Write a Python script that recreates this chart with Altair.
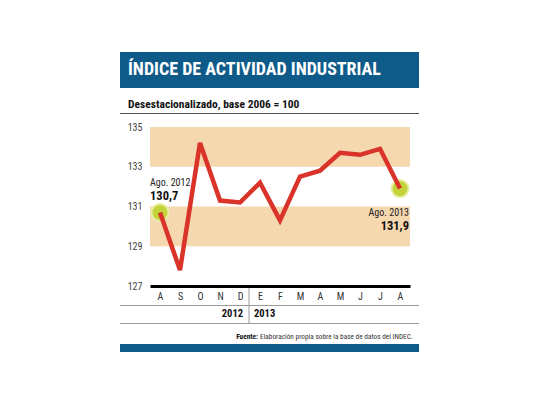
import json
import altair as alt
import pandas as pd

# Índice de actividad industrial, desestacionalizado (base 2006 = 100)
meses = ["A", "S", "O", "N", "D", "E", "F", "M", "A", "M", "J", "J", "A"]
valores = [130.7, 127.8, 134.2, 131.3, 131.2, 132.2, 130.3, 132.5, 132.8, 133.7, 133.6, 133.9, 131.9]
anios = ["2012", "2013"]
marcas_y = [127, 129, 131, 133, 135]
bandas_desde = [129, 133]
bandas_hasta = [131, 135]

FONT = "Roboto Condensed, Roboto, sans-serif"
AZUL = "#0e5b8a"
ROJO = "#d9332a"
VERDE = "#c3d43a"
ARENA = "#f5d7b0"

df = pd.DataFrame({"idx": list(range(len(meses))), "mes": meses, "valor": valores})
bandas = pd.DataFrame({"desde": bandas_desde, "hasta": bandas_hasta})
uno = pd.DataFrame({"k": [0]})

x_scale = alt.Scale(domain=[-0.5, len(meses) - 0.5], nice=False, zero=False)
y_scale = alt.Scale(domain=[127, 135], nice=False, zero=False)

x_axis = alt.Axis(values=list(range(len(meses))), labelExpr=f"{json.dumps(meses)}[datum.value]",
                  title=None, ticks=False, grid=False, domainColor="black", domainWidth=3,
                  labelPadding=5, labelFont=FONT, labelFontSize=10, labelColor="#333",
                  labelAngle=0, labelOverlap=False)
y_axis = alt.Axis(values=marcas_y, title=None, ticks=False, grid=False, domain=False,
                  labelPadding=8, labelFont=FONT, labelFontSize=10, labelColor="#444",
                  labelOverlap=False)

X = alt.X("idx:Q", scale=x_scale, axis=x_axis)
Y = alt.Y("valor:Q", scale=y_scale, axis=y_axis)

bands = alt.Chart(bandas).mark_rect(color=ARENA).encode(
    x=alt.value(0), x2=alt.value(260),
    y=alt.Y("desde:Q", scale=y_scale, axis=y_axis), y2="hasta:Q")

ends = df.iloc[[0, len(df) - 1]]
dots = alt.Chart(ends).mark_circle(size=290, color=VERDE, opacity=1, stroke="#e8eea6",
                                   strokeWidth=2).encode(x=X, y=Y)

line = alt.Chart(df).mark_line(color=ROJO, strokeWidth=4.5, strokeJoin="miter").encode(x=X, y=Y)

first = df.iloc[[0]].assign(lbl="Ago. 2012", num="130,7")
last = df.iloc[[len(df) - 1]].assign(lbl="Ago. 2013", num="131,9")
ann = (
    alt.Chart(first).mark_text(align="left", dx=-10, dy=-29, font=FONT, fontSize=10,
                               color="#222").encode(text="lbl:N", x=X, y=Y)
    + alt.Chart(first).mark_text(align="left", dx=-10, dy=-16, font=FONT, fontSize=12.5,
                                 fontWeight="bold", color="#111").encode(text="num:N", x=X, y=Y)
    + alt.Chart(last).mark_text(align="right", dx=9, dy=24, font=FONT, fontSize=10,
                                color="#222").encode(text="lbl:N", x=X, y=Y)
    + alt.Chart(last).mark_text(align="right", dx=9, dy=37, font=FONT, fontSize=12.5,
                                fontWeight="bold", color="#111").encode(text="num:N", x=X, y=Y)
)

# decoration around the plot (header, rules, footer), positions in pixels from plot origin
def rect(x, x2, y, y2, color):
    return alt.Chart(uno).mark_rect(color=color).encode(
        x=alt.value(x), x2=alt.value(x2), y=alt.value(y), y2=alt.value(y2))

def txt(s, x, y, size, weight="normal", align="left", color="#111"):
    return alt.Chart(uno).mark_text(text=s, align=align, baseline="middle", font=FONT,
                                    fontSize=size, fontWeight=weight, color=color).encode(
        x=alt.value(x), y=alt.value(y))

deco = (
    rect(-30, 269, -75, -39, AZUL)
    + txt("ÍNDICE DE ACTIVIDAD INDUSTRIAL", -22, -57, 18, "bold", color="white")
    + txt("Desestacionalizado, base 2006 = 100", -22, -22, 11.5, "bold")
    + rect(-30, 269, -14, -13, "#555")
    + rect(-30, 269, 178, 179, "#999")
    + rect(-30, 269, 196, 197, "#999")
    + rect(98.5, 99.5, 161, 196, "#999")
    + txt(anios[0], 93, 187, 10.5, "bold", align="right")
    + txt(anios[1], 104, 187, 10.5, "bold")
    + txt("Fuente:", 108, 210, 7.3, "bold", align="right")
    + txt("Elaboración propia sobre la base de datos del INDEC.", 110, 210, 7.3, color="#333")
    + rect(-30, 269, 217, 225, AZUL)
)

chart = alt.layer(bands, dots, line, ann, deco).properties(
    width=260, height=159, autosize="none",
    padding={"left": 142, "top": 119, "right": 110, "bottom": 80},
).configure_view(stroke=None).configure_axis(labelOverlap=False)

chart.save("out.html", embed_options={"renderer": "svg", "actions": False})
